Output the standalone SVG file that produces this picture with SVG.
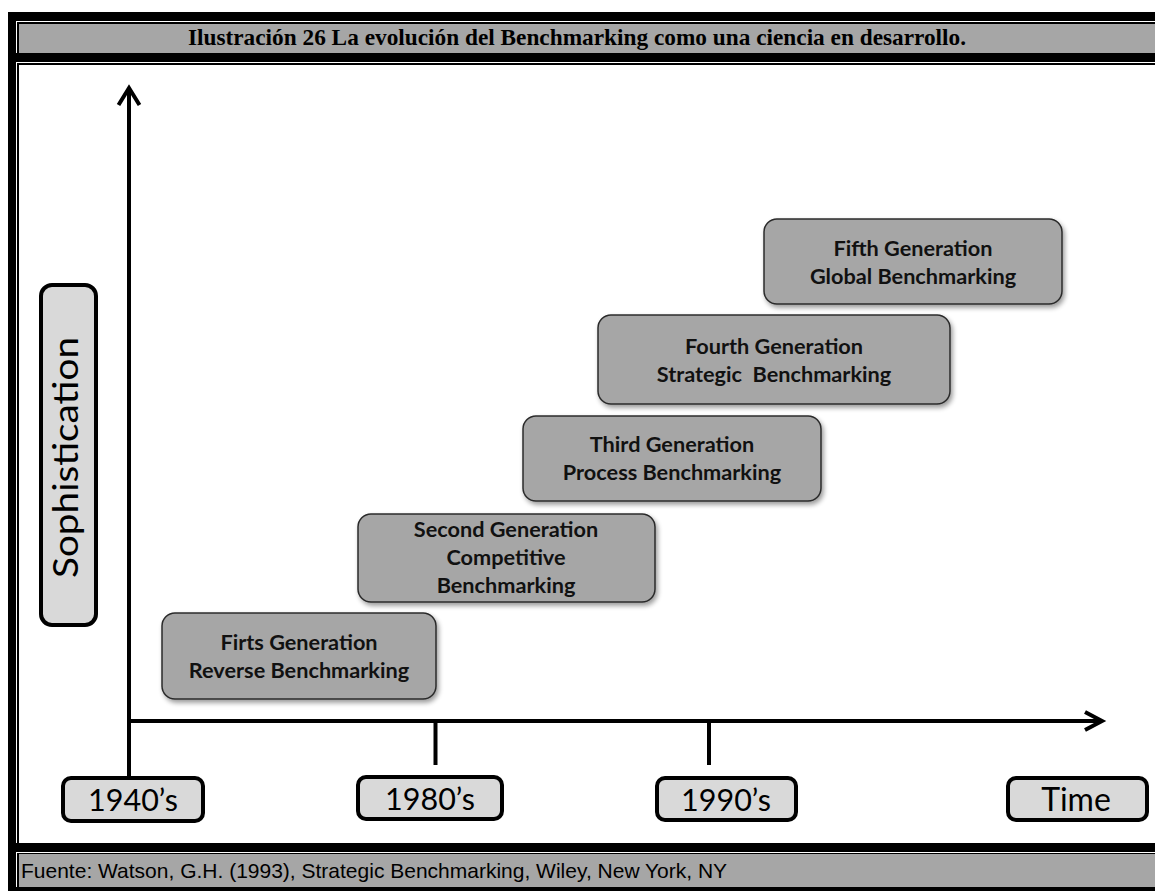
<svg xmlns="http://www.w3.org/2000/svg" width="1155" height="891" viewBox="0 0 1155 891">
  <style>
    .hdr { font-family: "Liberation Serif", serif; font-weight: bold; font-size: 23.3px; fill: #000; }
    .src { font-family: "Liberation Sans", Arial, sans-serif; font-size: 21px; fill: #000; }
    .gen rect { fill: #a6a6a6; stroke: #2b2b2b; stroke-width: 1.5; }
    .gen text { font-family: Lato, "Open Sans", sans-serif; font-weight: bold; font-size: 21.7px; fill: #111; text-anchor: middle; }
    .lbl rect { fill: #d9d9d9; stroke: #000; stroke-width: 4; }
    .lbl text { font-family: Lato, "Open Sans", sans-serif; font-size: 30.5px; fill: #000; text-anchor: middle; }
    .axis { stroke: #000; stroke-width: 4; fill: none; }
  </style>
  <defs>
    <filter id="shadow" x="-10%" y="-10%" width="130%" height="140%">
      <feGaussianBlur in="SourceAlpha" stdDeviation="2.5"/>
      <feOffset dx="2" dy="3" result="b"/>
      <feComponentTransfer><feFuncA type="linear" slope="0.4"/></feComponentTransfer>
      <feMerge><feMergeNode/><feMergeNode in="SourceGraphic"/></feMerge>
    </filter>
  </defs>

  <rect width="1155" height="891" fill="#fff"/>

  <!-- table frame: thick outer border with thin inner cell rules -->
  <g id="frame">
    <rect x="8" y="12" width="1160" height="890" fill="#000"/>
    <!-- caption cell -->
    <rect x="16" y="21" width="1150" height="32" fill="#fff"/>
    <rect x="17" y="22" width="1150" height="31" fill="#000"/>
    <rect x="19" y="24" width="1150" height="29" fill="#a6a6a6"/>
    <!-- figure cell -->
    <rect x="16" y="62" width="1150" height="781" fill="#fff"/>
    <rect x="17" y="63" width="1150" height="780" fill="#000"/>
    <rect x="19" y="65" width="1150" height="778" fill="#fff"/>
    <!-- source cell -->
    <rect x="16" y="852" width="1150" height="35" fill="#fff"/>
    <rect x="17" y="853" width="1150" height="34" fill="#000"/>
    <rect x="19" y="854" width="1150" height="33" fill="#a6a6a6"/>
  </g>

  <text id="caption" class="hdr" x="577" y="45" text-anchor="middle">Ilustración 26 La evolución del Benchmarking como una ciencia en desarrollo.</text>
  <text id="source" class="src" x="21" y="878">Fuente: Watson, G.H. (1993), Strategic Benchmarking, Wiley, New York, NY</text>

  <!-- axes and tick marks -->
  <g id="connectors">
    <line class="axis" x1="129" y1="89" x2="129" y2="778"/>
    <polyline class="axis" points="118.5,105 129,88 139.5,105"/>
    <line class="axis" x1="127" y1="721" x2="1101" y2="721"/>
    <polyline class="axis" points="1085,712 1102,721 1085,730"/>
    <line class="axis" x1="435.5" y1="721" x2="435.5" y2="765"/>
    <line class="axis" x1="709" y1="721" x2="709" y2="765"/>
  </g>

  <!-- axis labels -->
  <g id="sophistication" class="lbl">
    <rect x="41" y="285" width="55" height="340" rx="11"/>
    <text transform="translate(78 457.5) rotate(-90)" style="font-size:34px" textLength="241" lengthAdjust="spacingAndGlyphs">Sophistication</text>
  </g>
  <g id="y1940" class="lbl">
    <rect x="63" y="778" width="140" height="43" rx="8"/>
    <text x="133" y="811">1940’s</text>
  </g>
  <g id="y1980" class="lbl">
    <rect x="358" y="777" width="144" height="42" rx="8"/>
    <text x="430" y="810">1980’s</text>
  </g>
  <g id="y1990" class="lbl">
    <rect x="657" y="778" width="139" height="42" rx="8"/>
    <text x="726" y="811">1990’s</text>
  </g>
  <g id="time" class="lbl">
    <rect x="1008" y="778" width="139" height="42" rx="8"/>
    <text x="1076" y="811" style="font-size:32px">Time</text>
  </g>

  <!-- benchmarking generations -->
  <g id="gen1" class="gen">
    <rect x="162" y="613" width="274" height="86" rx="13" filter="url(#shadow)"/>
    <text x="299" y="650">Firts Generation</text>
    <text x="299" y="678">Reverse Benchmarking</text>
  </g>
  <g id="gen2" class="gen">
    <rect x="358" y="514" width="297" height="88" rx="13" filter="url(#shadow)"/>
    <text x="506" y="537">Second Generation</text>
    <text x="506" y="565">Competitive</text>
    <text x="506" y="593">Benchmarking</text>
  </g>
  <g id="gen3" class="gen">
    <rect x="523" y="416" width="298" height="85" rx="13" filter="url(#shadow)"/>
    <text x="672" y="452">Third Generation</text>
    <text x="672" y="480">Process Benchmarking</text>
  </g>
  <g id="gen4" class="gen">
    <rect x="598" y="315" width="352" height="89" rx="13" filter="url(#shadow)"/>
    <text x="774" y="354">Fourth Generation</text>
    <text x="774" y="382" xml:space="preserve">Strategic  Benchmarking</text>
  </g>
  <g id="gen5" class="gen">
    <rect x="764" y="219" width="298" height="85" rx="13" filter="url(#shadow)"/>
    <text x="913" y="256">Fifth Generation</text>
    <text x="913" y="284">Global Benchmarking</text>
  </g>
</svg>
